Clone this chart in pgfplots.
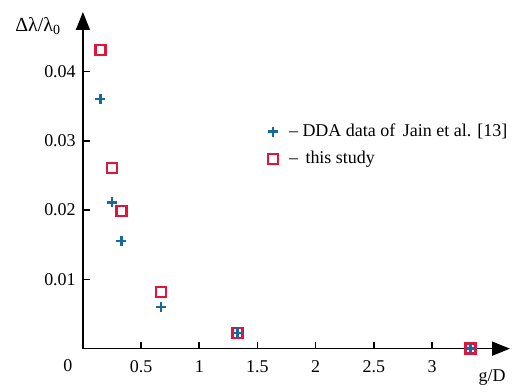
\documentclass[border=0pt]{standalone}
\usepackage{fontspec}
\setmainfont{Liberation Serif}
\usepackage{pgfplots}
\pgfplotsset{compat=1.18}
\usetikzlibrary{arrows.meta}
\definecolor{ddablue}{RGB}{25,105,160}
\definecolor{studyred}{RGB}{225,20,60}
\begin{document}
\fontsize{18}{21}\selectfont
\begin{tikzpicture}
\begin{axis}[
  scale only axis,
  width=427.5pt, height=337pt,
  xmin=0, xmax=3.67, ymin=0, ymax=0.0486,
  axis lines=left,
  axis line style={line width=1.6pt, -{Triangle[length=18pt,width=14pt]}},
  xtick={0.5,1,1.5,2,2.5,3},
  ytick={0.01,0.02,0.03,0.04},
  xticklabels={0.5,1,1.5,2,2.5,3},
  yticklabels={0.01,0.02,0.03,0.04},
  scaled y ticks=false,
  scaled x ticks=false,
  tick align=inside,
  major tick length=7pt,
  tick style={line width=1.6pt, black},
  tick label style={font=\fontsize{18}{21}\selectfont},
  xticklabel style={yshift=-6pt},
  yticklabel style={xshift=-1pt},
  clip=false,
  legend style={at={(rel axis cs:0.426,0.68)}, anchor=north west, draw=none, fill=none,
    font=\fontsize{18}{21}\selectfont, row sep=8pt},
  legend cell align=left,
]
\addplot[only marks, mark=+, mark size=5pt, ddablue, line width=2.4pt]
  coordinates {(0.15,0.0360) (0.25,0.0211) (0.33,0.0155) (0.67,0.0060) (1.33,0.0023) (3.33,0.0000)};
\addlegendentry{~~– DDA data of\, Jain et al. [13]}
\addplot[only marks, mark=square, mark size=5pt, studyred, line width=2.4pt]
  coordinates {(0.15,0.0431) (0.25,0.0261) (0.33,0.0199) (0.67,0.0082) (1.33,0.0023) (3.33,0.0000)};
\addlegendentry{~~–\, this study}
\addplot[only marks, mark=+, mark size=5pt, ddablue, line width=2.4pt, forget plot]
  coordinates {(1.33,0.0023) (3.33,0.0000)};
\node[anchor=center] at ([xshift=-15pt,yshift=-17pt]axis cs:0,0) {0};
\node[anchor=center, font=\fontsize{20}{22}\selectfont] at ([xshift=-45pt,yshift=-14pt]rel axis cs:0,1) {Δλ/λ\textsubscript{0}};
\node[anchor=center] at ([xshift=-18pt,yshift=-29pt]rel axis cs:1,0) {g/D};
\path ([xshift=-83pt,yshift=-35pt]rel axis cs:0,0) -- ([xshift=5pt,yshift=12pt]rel axis cs:1,1);
\end{axis}
\end{tikzpicture}
\end{document}
